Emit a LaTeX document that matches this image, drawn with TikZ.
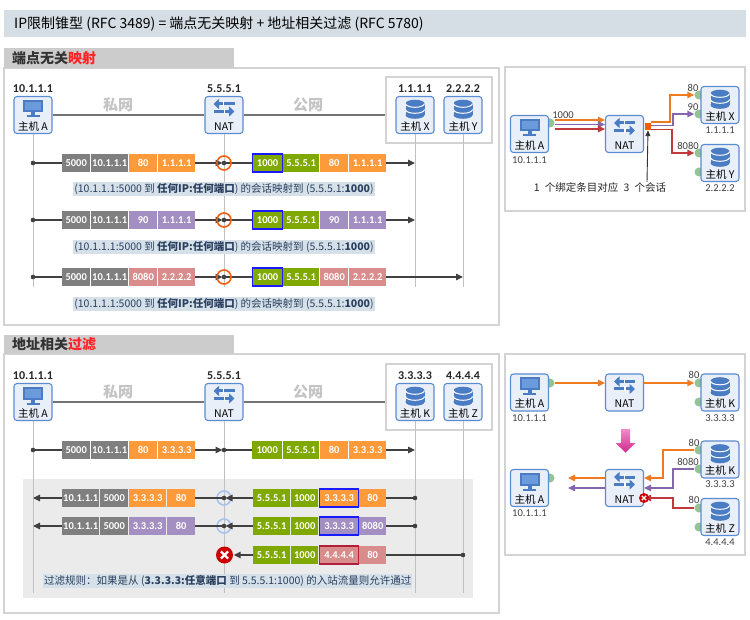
\documentclass[tikz,border=0pt]{standalone}
\usepackage{fontspec}
\setmainfont{Noto Sans CJK SC}
\newfontfamily\latf{Carlito}
\usetikzlibrary{arrows.meta}
\newcommand\fsz[1]{\fontsize{#1}{#1}\selectfont}
\definecolor{titlebg}{HTML}{D5DEE5}
\definecolor{tabbg}{HTML}{CCCCCC}
\definecolor{panelbd}{HTML}{D3D3D3}
\definecolor{boxfill}{HTML}{E9EFF9}
\definecolor{boxbd}{HTML}{5B8BD0}
\definecolor{iconblue}{HTML}{4A7CC4}
\definecolor{iconscreen}{HTML}{6C9BDB}
\definecolor{cgray}{HTML}{7F7F7F}
\definecolor{corange}{HTML}{FF9A3A}
\definecolor{cpurple}{HTML}{A48FC2}
\definecolor{csalmon}{HTML}{D98C8C}
\definecolor{cgreen}{HTML}{7FA800}
\definecolor{capbg}{HTML}{D5E0E8}
\definecolor{captext}{HTML}{2A3F5F}
\definecolor{netgray}{HTML}{C4C4C4}
\definecolor{lifeline}{HTML}{C0C0C0}
\definecolor{flowc}{HTML}{404040}
\definecolor{ringor}{HTML}{F06010}
\definecolor{ringbl}{HTML}{A8C0EA}
\definecolor{xred}{HTML}{CC0000}
\definecolor{lorange}{HTML}{F07A20}
\definecolor{lpurple}{HTML}{8466AE}
\definecolor{lred}{HTML}{C0393B}
\definecolor{portgreen}{HTML}{93C493}
\definecolor{pinktop}{HTML}{F08CC8}
\definecolor{pinkbot}{HTML}{D02A8E}
\definecolor{bluebdc}{HTML}{1A1AFF}
\definecolor{redbdc}{HTML}{B0203A}
\definecolor{areabg}{HTML}{EBEBEB}
\definecolor{hl}{HTML}{FF2222}
\definecolor{sqor}{HTML}{F06000}

\newcommand\iconmonitor{%
  \fill[iconblue] (-10,-15) rectangle (10,-2.5);
  \fill[iconscreen] (-8,-13) rectangle (8,-4.5);
  \fill[iconblue] (-2,-2.5) rectangle (2,0.5);
  \fill[iconblue] (-6.5,0.5) rectangle (6.5,2.5);}
\newcommand\icondb{%
  \fill[iconblue] (-9.5,-11.5) rectangle (9.5,0);
  \fill[iconblue] (0,0) ellipse (9.5 and 3.8);
  \fill[iconblue] (0,-11.5) ellipse (9.5 and 3.8);
  \draw[white, line width=1pt] (-9.5,-11.5) arc (180:0:9.5 and 3.8);
  \draw[white, line width=1pt] (-9.5,-5.5) arc (180:0:9.5 and 3.8);}
\newcommand\iconnat{%
  \draw[iconblue, line width=3pt, -{Triangle[length=5.5pt,width=10pt]}] (10.5,-11) -- (-10.5,-11);
  \draw[iconblue, line width=3pt, -{Triangle[length=5.5pt,width=10pt]}] (-10.5,-3.5) -- (10.5,-3.5);
  \fill[white] (-1,-13.5) rectangle (0.3,-8.5);
  \fill[white] (-0.3,-6) rectangle (1,-1);}
\newcommand\hostnode[5]{%
  \node[iconbox] (#1) at (#2,#3) {};
  \begin{scope}[shift={(#2,#3)}]
    \csname icon#4\endcsname
    \node[iconlab] (#1t) at (0,11.5) {#5};
  \end{scope}}
\newcommand\pcell[6]{\node[pcellbox,#5,minimum width=#4pt,anchor=west] (#1) at (#2,#3) {#6};}

% header of a left panel: #1 suffix, #2 ipX, #3 ipY, #4 nameX, #5 nameY, #6 lifeline end
\newcommand\netheader[6]{%
  \node[groupbox] (grp#1) at (439,110) {};
  \node[iplab] (ipA#1) at (33,89) {10.1.1.1};
  \node[iplab] (ipN#1) at (224,89) {5.5.5.1};
  \node[iplab] (ipX#1) at (415,89) {#2};
  \node[iplab] (ipY#1) at (463,89) {#3};
  \hostnode{hA#1}{33}{115}{monitor}{主机 A}
  \hostnode{nat#1}{224}{115}{nat}{NAT}
  \hostnode{hX#1}{415}{115}{db}{#4}
  \hostnode{hY#1}{463}{115}{db}{#5}
  \draw[netline] (hA#1.east) -- (nat#1.west);
  \draw[netline] (nat#1.east) -- (nat#1.east -| grp#1.west);
  \node[nettext] (pn#1) at (118,105) {私网};
  \node[nettext] (gn#1) at (308,105) {公网};
  \coordinate (eA#1) at (33,#6);
  \coordinate (eN#1) at (224,#6);
  \coordinate (eX#1) at (415,#6);
  \coordinate (eY#1) at (463,#6);
  \draw[lifeln] (hA#1.south) -- (eA#1);
  \draw[lifeln] (nat#1.south) -- (eN#1);
  \draw[lifeln] (hX#1.south) -- (eX#1);
  \draw[lifeln] (hY#1.south) -- (eY#1);}

% outbound row: #1 id, #2 y, #3 colour, #4 port, #5 dest, #6 end x, #7 style of 1000 cell
\newcommand\maprow[7]{%
  \coordinate (#1s) at (33,#2);
  \coordinate (#1n) at (224,#2);
  \coordinate (#1e) at (#6,#2);
  \pcell{#1a}{62}{#2}{28}{fill=cgray}{5000}
  \pcell{#1b}{91}{#2}{37}{fill=cgray}{10.1.1.1}
  \pcell{#1c}{129}{#2}{28}{fill=#3}{#4}
  \pcell{#1d}{158}{#2}{37}{fill=#3}{#5}
  \pcell{#1f}{252}{#2}{30}{fill=cgreen,#7}{1000}
  \pcell{#1g}{283}{#2}{36}{fill=cgreen}{5.5.5.1}
  \pcell{#1h}{320}{#2}{28}{fill=#3}{#4}
  \pcell{#1i}{349}{#2}{37}{fill=#3}{#5}
  \draw[flowln] (#1s) -- (#1a.west);
  \draw[flowln,tipR,shorten >=1.5pt] (#1d.east) -- (#1n);
  \draw[flowln] (#1n) -- (#1f.west);
  \draw[flowln,tipR] (#1i.east) -- (#1e);
  \fill[flowc] (#1s) circle (2.3);
  \fill[flowc] (#1n) circle (2.3);}

% inbound allowed row: #1 id, #2 y, #3 colour, #4 last port
\newcommand\filtrow[4]{%
  \coordinate (#1s) at (415,#2);
  \coordinate (#1n) at (224,#2);
  \coordinate (#1e) at (33,#2);
  \draw[ringbl, line width=1.6pt] (#1n) circle (7);
  \pcell{#1a}{62}{#2}{37}{fill=cgray}{10.1.1.1}
  \pcell{#1b}{100}{#2}{28}{fill=cgray}{5000}
  \pcell{#1c}{129}{#2}{37}{fill=#3}{3.3.3.3}
  \pcell{#1d}{167}{#2}{28}{fill=#3}{80}
  \pcell{#1f}{253}{#2}{37}{fill=cgreen}{5.5.5.1}
  \pcell{#1g}{291}{#2}{27}{fill=cgreen}{1000}
  \pcell{#1h}{319}{#2}{39}{fill=#3,draw=bluebdc,line width=1.2pt}{3.3.3.3}
  \pcell{#1i}{359}{#2}{27}{fill=#3}{#4}
  \draw[flowln] (#1s) -- (#1i.east);
  \draw[flowln,tipR,shorten >=1.5pt] (#1f.west) -- (#1n);
  \draw[flowln] (#1n) -- ([xshift=-7pt]#1n);
  \draw[flowln] ([xshift=-7pt]#1n) -- (#1d.east);
  \draw[flowln,tipR] (#1a.west) -- (#1e);
  \fill[flowc] (#1s) circle (2.3);
  \fill[flowc] (#1n) circle (2.3);}

\begin{document}
\begin{tikzpicture}[x=1pt,y=-1pt,
  panelbox/.style={draw=panelbd, line width=1.2pt},
  iconbox/.style={draw=boxbd, fill=boxfill, line width=1.1pt, rounded corners=3pt, minimum width=38pt, minimum height=37pt, inner sep=0pt},
  iconlab/.style={font=\fsz{10.5}, text=black, inner sep=0pt},
  iplab/.style={font=\latf\fsz{12}\bfseries, text=black!85, inner sep=0pt},
  smalllab/.style={font=\latf\fsz{10.5}, text=black!75, inner sep=0pt},
  groupbox/.style={draw=panelbd, fill=white, line width=1.2pt, minimum width=106pt, minimum height=66pt, inner sep=0pt},
  netline/.style={draw=black!55, line width=1.2pt},
  nettext/.style={font=\fsz{15}\bfseries, text=netgray, inner sep=0pt},
  lifeln/.style={draw=lifeline, line width=1pt},
  flowln/.style={draw=flowc, line width=1.2pt},
  tipR/.style={-{Triangle[length=7pt,width=6.5pt]}},
  pcellbox/.style={inner sep=0pt, minimum height=18pt, text=white, font=\latf\fsz{10.5}\bfseries},
  capbox/.style={fill=capbg, text=captext, font=\fsz{10.5}, inner xsep=1pt, inner ysep=1.2pt},
  tabtext/.style={anchor=west, font=\fsz{14}\bfseries, text=black!80, inner sep=0pt},
  port/.style={circle, fill=portgreen, minimum size=9pt, inner sep=0pt},
  rline/.style={line width=1.5pt, -{Triangle[length=7pt,width=6.5pt]}},
  plabel/.style={font=\latf\fsz{10.5}, text=black!75, inner sep=0pt},
  xmk/.style={circle, fill=xred, inner sep=0pt}
]
\useasboundingbox (0,0) rectangle (750,620);
\fill[white] (0,0) rectangle (750,620);

% title
\node[fill=titlebg, anchor=north west, minimum width=742pt, minimum height=27pt, inner sep=0pt] (tbar) at (4,10) {};
\node[anchor=west, font=\fsz{14}, inner sep=0pt] (ttl) at (14,24) {IP限制锥型 (RFC 3489) = 端点无关映射 + 地址相关过滤 (RFC 5780)};

% ===== panel 1 =====
\draw[panelbox] (4,68) rectangle (499,325);
\node[fill=tabbg, anchor=north west, minimum width=230pt, minimum height=20pt, inner sep=0pt] (tab1) at (4,48) {};
\node[tabtext] (tab1t) at (12,58) {端点无关\textcolor{hl}{映射}};
\netheader{1}{1.1.1.1}{2.2.2.2}{主机 X}{主机 Y}{287}
\maprow{ra}{163}{corange}{80}{1.1.1.1}{415}{draw=bluebdc,line width=1.2pt}
\maprow{rb}{220}{cpurple}{90}{1.1.1.1}{415}{draw=bluebdc,line width=1.2pt}
\maprow{rc}{277}{csalmon}{8080}{2.2.2.2}{463}{draw=bluebdc,line width=1.2pt}
\draw[ringor, line width=1.6pt] (ran) circle (7);
\draw[ringor, line width=1.6pt] (rbn) circle (7);
\draw[ringor, line width=1.6pt] (rcn) circle (7);
\node[capbox] (capa) at (224,189) {(10.1.1.1:5000 到 \textbf{任何IP:任何端口}) 的会话映射到 (5.5.5.1:\textbf{1000})};
\node[capbox] (capb) at (224,247) {(10.1.1.1:5000 到 \textbf{任何IP:任何端口}) 的会话映射到 (5.5.5.1:\textbf{1000})};
\node[capbox] (capc) at (224,304) {(10.1.1.1:5000 到 \textbf{任何IP:任何端口}) 的会话映射到 (5.5.5.1:\textbf{1000})};

% ===== panel 2 =====
\draw[panelbox] (4,354) rectangle (499,613);
\node[fill=tabbg, anchor=north west, minimum width=230pt, minimum height=19pt, inner sep=0pt] (tab2) at (4,335) {};
\node[tabtext] (tab2t) at (12,344.5) {地址相关\textcolor{hl}{过滤}};
\fill[areabg] (23,479) rectangle (473,598);
\begin{scope}[shift={(0,287)}]
\netheader{2}{3.3.3.3}{4.4.4.4}{主机 K}{主机 Z}{306}
\end{scope}
\maprow{rd}{450}{corange}{80}{3.3.3.3}{415}{}
\filtrow{re}{498}{corange}{80}
\filtrow{rf}{526}{cpurple}{8080}
% blocked row
\coordinate (rgs) at (463,555);
\node[xmk, minimum size=17pt] (rgx) at (224.5,555) {};
\draw[white, line width=2.2pt] ([shift={(-3.6pt,-3.6pt)}]rgx.center) -- ([shift={(3.6pt,3.6pt)}]rgx.center);
\draw[white, line width=2.2pt] ([shift={(-3.6pt,3.6pt)}]rgx.center) -- ([shift={(3.6pt,-3.6pt)}]rgx.center);
\pcell{rgf}{253}{555}{37}{fill=cgreen}{5.5.5.1}
\pcell{rgg}{291}{555}{27}{fill=cgreen}{1000}
\pcell{rgh}{319}{555}{39}{fill=csalmon,draw=redbdc,line width=1.2pt}{4.4.4.4}
\pcell{rgi}{359}{555}{27}{fill=csalmon}{80}
\draw[flowln] (rgs) -- (rgi.east);
\draw[flowln,tipR,shorten >=0.5pt] (rgf.west) -- (rgx.east);
\fill[flowc] (rgs) circle (2.3);
\node[capbox, anchor=west] (capd) at (43,581) {过滤规则：如果是从 (\textbf{3.3.3.3:任意端口} 到 5.5.5.1:1000) 的入站流量则允许通过};

% ===== right panel 1 =====
\draw[panelbox] (505,67) rectangle (745,211);
\node[port] (pA1) at (550,123) {};
\node[port] (pX1a) at (699,95) {};
\node[port] (pX1b) at (699,114) {};
\node[port] (pY1a) at (699,153) {};
\node[port] (pY1b) at (699,172) {};
\hostnode{rA1}{529.5}{134}{monitor}{主机 A}
\hostnode{rN1}{624.5}{134}{nat}{NAT}
\hostnode{rX1}{720}{105}{db}{主机 X}
\hostnode{rY1}{720}{163}{db}{主机 Y}
\node[smalllab] (rA1ip) at (529.5,160) {10.1.1.1};
\node[smalllab] (rX1ip) at (720,130.5) {1.1.1.1};
\node[smalllab] (rY1ip) at (720,188.5) {2.2.2.2};
\node[fill=sqor, minimum width=6pt, minimum height=7pt, inner sep=0pt] (sq1) at (648,126.5) {};
\draw[rline, lorange] (pA1.east |- 0,120) -- (rN1.west |- 0,120);
\draw[rline, lpurple] (pA1.east |- 0,124.5) -- (rN1.west |- 0,124.5);
\draw[rline, lred] (pA1.east |- 0,129) -- (rN1.west |- 0,129);
\draw[rline, lorange] (sq1.east |- 0,122) -- (670,122) -- (670,95) -- (pX1a.west);
\draw[rline, lpurple] (sq1.east |- 0,125.5) -- (673,125.5) -- (673,114) -- (pX1b.west);
\draw[rline, lred] (sq1.east |- 0,129.5) -- (672,129.5) -- (672,153) -- (pY1a.west);
\node[plabel] (l1000) at (563,115) {1000};
\node[plabel] (l80a) at (693,88) {80};
\node[plabel] (l90a) at (693,107) {90};
\node[plabel] (l8080a) at (688,146) {8080};
\node[font=\fsz{10.5}, text=black!85, inner sep=0pt] (cap1) at (600,188) {1\;\ 个绑定条目对应\;\ 3\;\ 个会话};
\coordinate (arrs) at (647,182);
\draw[black!80, line width=0.9pt, -{Triangle[length=6pt,width=5pt]}] (arrs) -- (sq1.south);

% ===== right panel 2 =====
\draw[panelbox] (505,354) rectangle (745,555);
\node[port] (pA2) at (550,383) {};
\node[port] (pK1a) at (699,383) {};
\node[port] (pK1b) at (699,402) {};
\node[port] (pA3) at (550,478) {};
\node[port] (pK2a) at (699,450) {};
\node[port] (pK2b) at (699,469) {};
\node[port] (pZa) at (699,508) {};
\node[port] (pZb) at (699,527) {};
\hostnode{rA2}{529.5}{392.5}{monitor}{主机 A}
\hostnode{rN2}{624.5}{392.5}{nat}{NAT}
\hostnode{rK1}{720}{392.5}{db}{主机 K}
\hostnode{rA3}{529.5}{488}{monitor}{主机 A}
\hostnode{rN3}{624.5}{488}{nat}{NAT}
\hostnode{rK2}{720}{459.5}{db}{主机 K}
\hostnode{rZ}{720}{517}{db}{主机 Z}
\node[smalllab] (rA2ip) at (529.5,418.5) {10.1.1.1};
\node[smalllab] (rK1ip) at (720,418.5) {3.3.3.3};
\node[smalllab] (rA3ip) at (529.5,513.5) {10.1.1.1};
\node[smalllab] (rK2ip) at (720,484.5) {3.3.3.3};
\node[smalllab] (rZip) at (720,542.5) {4.4.4.4};
\draw[rline, lorange] (pA2.east) -- (rN2.west |- pA2.east);
\draw[rline, lorange] (rN2.east |- pK1a.west) -- (pK1a.west);
\node[plabel] (l80b) at (694,375) {80};
\shade[top color=pinktop, bottom color=pinkbot] (621,429) -- (630,429) -- (630,443) -- (635.5,443) -- (625.5,452.5) -- (615.5,443) -- (621,443) -- cycle;
\coordinate (lo) at (568,478);
\coordinate (lp) at (568,488);
\draw[rline, lorange] (rN3.west |- lo) -- (lo);
\draw[rline, lpurple] (rN3.west |- lp) -- (lp);
\draw[rline, lorange] (pK2a.west) -- (663,450) -- (663,478) -- (rN3.east |- 0,478);
\draw[rline, lpurple] (pK2b.west) -- (673,469) -- (673,488) -- (rN3.east |- 0,488);
\draw[rline, lred] (pZa.west) -- (673,508) -- (673,498) -- (rN3.east |- 0,498);
\node[xmk, minimum size=10pt] (rx2) at (644,498) {};
\draw[white, line width=1.4pt] ([shift={(-2.2pt,-2.2pt)}]rx2.center) -- ([shift={(2.2pt,2.2pt)}]rx2.center);
\draw[white, line width=1.4pt] ([shift={(-2.2pt,2.2pt)}]rx2.center) -- ([shift={(2.2pt,-2.2pt)}]rx2.center);
\node[plabel] (l80c) at (694,443) {80};
\node[plabel] (l8080c) at (688,462) {8080};
\node[plabel] (l80d) at (694,500) {80};
\end{tikzpicture}
\end{document}
